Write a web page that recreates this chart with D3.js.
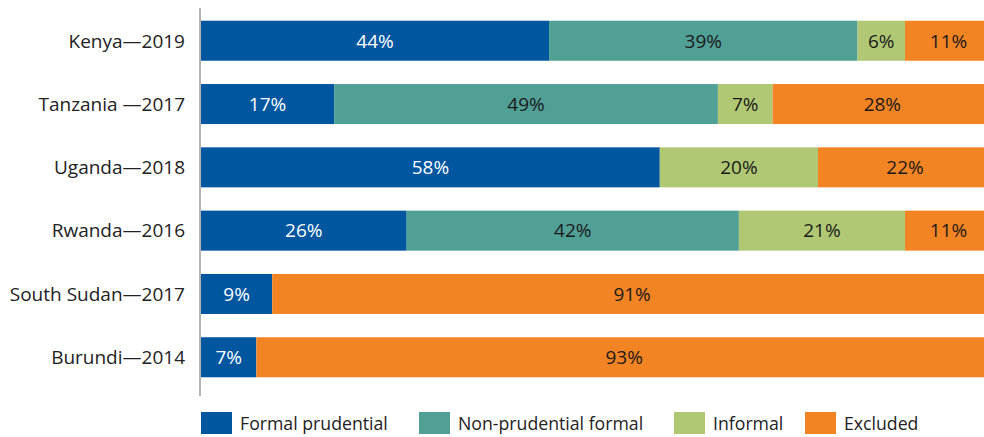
<!DOCTYPE html>
<html>
<head>
<meta charset="utf-8">
<script src="https://cdn.jsdelivr.net/npm/d3@7"></script>
<style>
  html, body { margin: 0; padding: 0; background: #fff; }
  svg { display: block; font-family: "Open Sans", Lato, sans-serif; }
</style>
</head>
<body>
<svg id="chart" width="984" height="437"></svg>
<script>
// Share of adults by financial access strand, per country survey
const countries = ["Kenya\u20142019", "Tanzania \u20142017", "Uganda\u20142018", "Rwanda\u20142016", "South Sudan\u20142017", "Burundi\u20142014"];
const seriesNames = ["Formal prudential", "Non-prudential formal", "Informal", "Excluded"];
const formalPrudential   = [44, 17, 58, 26, 9, 7];
const nonPrudential      = [39, 49, 0, 42, 0, 0];
const informal           = [6, 7, 20, 21, 0, 0];
const excluded           = [11, 28, 22, 11, 91, 93];
const seriesColors = ["#0156a0", "#51a096", "#b0c874", "#f38424"];
const labelColors  = ["#ffffff", "#1a1a1a", "#1a1a1a", "#1a1a1a"];

const seriesValues = [formalPrudential, nonPrudential, informal, excluded];
const rows = countries.map((c, i) => {
  const r = { country: c };
  seriesNames.forEach((s, k) => { r[s] = seriesValues[k][i]; });
  return r;
});

const svg = d3.select("#chart");
const left = 200, right = 992;

const x = d3.scaleLinear().domain([0, 1]).range([left + 1, right]);
const y = d3.scaleBand().domain(countries).range([14.4, 383.6]).paddingInner(0.368).paddingOuter(0.1);

// each row is expanded to fill the full width
const stack = d3.stack().keys(seriesNames).offset(d3.stackOffsetExpand);
const layers = stack(rows);

const g = svg.append("g");
layers.forEach((layer, k) => {
  const lg = g.append("g");
  lg.selectAll("rect")
    .data(layer.filter(d => d.data[layer.key] > 0))
    .join("rect")
    .attr("x", d => x(d[0]))
    .attr("y", d => y(d.data.country))
    .attr("width", d => x(d[1]) - x(d[0]))
    .attr("height", y.bandwidth())
    .attr("fill", seriesColors[k]);
  lg.selectAll("text")
    .data(layer.filter(d => d.data[layer.key] > 0))
    .join("text")
    .attr("x", d => (x(d[0]) + x(d[1])) / 2)
    .attr("y", d => y(d.data.country) + y.bandwidth() / 2)
    .attr("dy", "0.36em")
    .attr("text-anchor", "middle")
    .attr("font-size", 19)
    .attr("fill", labelColors[k])
    .text(d => d.data[layer.key] + "%");
});

// category axis
svg.append("line")
  .attr("x1", left).attr("x2", left)
  .attr("y1", 8).attr("y2", 396)
  .attr("stroke", "#9a9a9a").attr("stroke-width", 1.5);

svg.append("g").selectAll("text")
  .data(countries)
  .join("text")
  .attr("x", 185)
  .attr("y", d => y(d) + y.bandwidth() / 2)
  .attr("dy", "0.36em")
  .attr("text-anchor", "end")
  .attr("font-size", 19)
  .attr("fill", "#222")
  .text(d => d);

// legend
const legendX = [201, 419, 674, 805];
const legend = svg.append("g");
seriesNames.forEach((s, k) => {
  legend.append("rect")
    .attr("x", legendX[k]).attr("y", 412)
    .attr("width", 31).attr("height", 22)
    .attr("fill", seriesColors[k]);
  legend.append("text")
    .attr("x", legendX[k] + 39).attr("y", 424)
    .attr("dy", "0.36em")
    .attr("font-size", 17.7)
    .attr("fill", "#222")
    .text(s);
});
</script>
</body>
</html>
